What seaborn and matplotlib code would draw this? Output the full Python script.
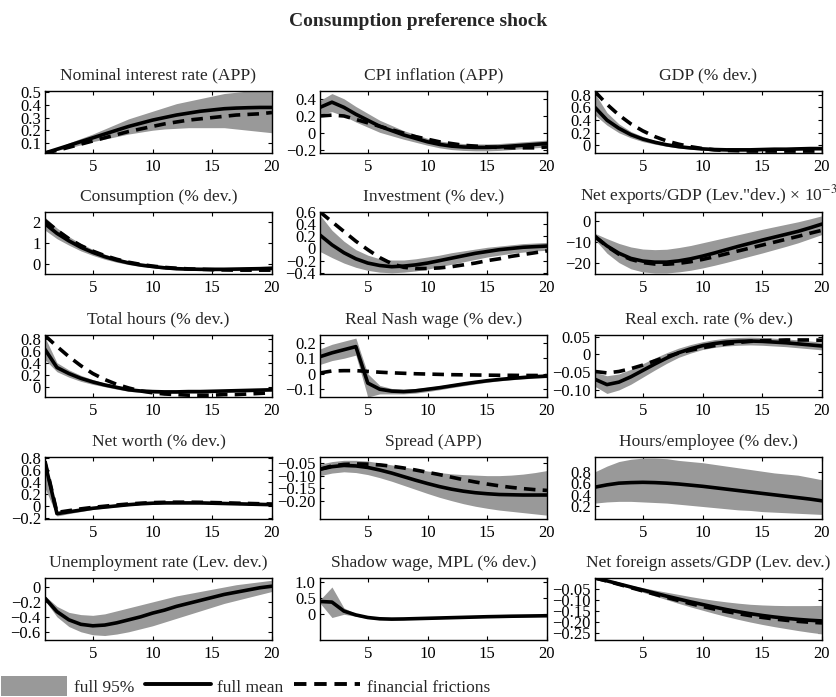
import matplotlib
matplotlib.use("Agg")
import matplotlib.pyplot as plt
import seaborn as sns
import pandas as pd
from matplotlib.patches import Patch
from matplotlib.lines import Line2D

# ---------------- data ----------------
periods = list(range(1, 21))

titles = [
    "Nominal interest rate (APP)", "CPI inflation (APP)", "GDP (% dev.)",
    "Consumption (% dev.)", "Investment (% dev.)", "Net exports/GDP (Lev.\"dev.) \u00d7 10$^{-3}$",
    "Total hours (% dev.)", "Real Nash wage (% dev.)", "Real exch. rate (% dev.)",
    "Net worth (% dev.)", "Spread (APP)", "Hours/employee (% dev.)",
    "Unemployment rate (Lev. dev.)", "Shadow wage, MPL (% dev.)", "Net foreign assets/GDP (Lev. dev.)",
]

nom_mean = [0.02,0.05,0.08,0.11,0.14,0.17,0.20,0.23,0.255,0.28,0.30,0.32,0.335,0.35,0.36,0.37,0.375,0.378,0.38,0.38]
nom_hi = [0.02,0.06,0.10,0.135,0.17,0.21,0.25,0.29,0.32,0.35,0.38,0.41,0.43,0.45,0.47,0.49,0.50,0.51,0.52,0.52]
nom_lo = [0.02,0.04,0.06,0.085,0.11,0.13,0.15,0.17,0.185,0.20,0.21,0.215,0.22,0.22,0.22,0.22,0.21,0.20,0.19,0.18]
nom_ff = [0.02,0.04,0.065,0.09,0.115,0.14,0.165,0.19,0.21,0.23,0.25,0.265,0.28,0.29,0.30,0.31,0.32,0.325,0.33,0.34]

cpi_mean = [0.30,0.36,0.30,0.22,0.15,0.08,0.03,-0.02,-0.06,-0.10,-0.13,-0.15,-0.16,-0.165,-0.165,-0.16,-0.15,-0.14,-0.13,-0.12]
cpi_hi = [0.38,0.46,0.40,0.31,0.23,0.15,0.09,0.03,-0.015,-0.06,-0.09,-0.11,-0.12,-0.125,-0.125,-0.12,-0.11,-0.10,-0.09,-0.08]
cpi_lo = [0.22,0.25,0.20,0.13,0.07,0.01,-0.03,-0.07,-0.105,-0.14,-0.17,-0.19,-0.20,-0.205,-0.205,-0.20,-0.19,-0.18,-0.17,-0.16]
cpi_ff = [0.20,0.21,0.20,0.16,0.12,0.08,0.04,0.0,-0.04,-0.07,-0.10,-0.12,-0.14,-0.15,-0.16,-0.165,-0.17,-0.17,-0.17,-0.16]

gdp_mean = [0.60,0.40,0.27,0.17,0.10,0.05,0.01,-0.02,-0.04,-0.055,-0.065,-0.07,-0.07,-0.07,-0.065,-0.06,-0.06,-0.055,-0.05,-0.05]
gdp_hi = [0.82,0.52,0.34,0.22,0.14,0.08,0.035,0.0,-0.02,-0.035,-0.045,-0.05,-0.05,-0.05,-0.045,-0.04,-0.035,-0.03,-0.025,-0.02]
gdp_lo = [0.48,0.32,0.20,0.12,0.06,0.02,-0.015,-0.04,-0.06,-0.075,-0.085,-0.09,-0.09,-0.09,-0.085,-0.08,-0.08,-0.075,-0.075,-0.075]
gdp_ff = [0.85,0.65,0.48,0.34,0.23,0.14,0.07,0.02,-0.02,-0.05,-0.07,-0.08,-0.085,-0.09,-0.09,-0.09,-0.09,-0.09,-0.09,-0.09]

cons_mean = [1.90,1.45,1.10,0.80,0.56,0.36,0.20,0.07,-0.03,-0.10,-0.16,-0.20,-0.22,-0.23,-0.23,-0.23,-0.22,-0.21,-0.20,-0.18]
cons_hi = [2.20,1.70,1.30,0.97,0.70,0.48,0.30,0.15,0.04,-0.04,-0.10,-0.14,-0.16,-0.17,-0.17,-0.16,-0.15,-0.13,-0.11,-0.09]
cons_lo = [1.60,1.20,0.90,0.63,0.42,0.24,0.10,-0.01,-0.10,-0.16,-0.22,-0.26,-0.28,-0.29,-0.30,-0.30,-0.29,-0.29,-0.28,-0.27]
cons_ff = [2.05,1.60,1.20,0.88,0.62,0.41,0.24,0.10,0.0,-0.08,-0.14,-0.18,-0.21,-0.23,-0.25,-0.26,-0.27,-0.27,-0.27,-0.27]

inv_mean = [0.22,0.06,-0.07,-0.17,-0.24,-0.28,-0.30,-0.29,-0.27,-0.24,-0.20,-0.16,-0.12,-0.08,-0.05,-0.02,0.0,0.02,0.03,0.04]
inv_hi = [0.55,0.30,0.12,-0.02,-0.11,-0.17,-0.19,-0.19,-0.17,-0.14,-0.11,-0.07,-0.04,-0.01,0.02,0.04,0.06,0.08,0.09,0.10]
inv_lo = [-0.05,-0.15,-0.24,-0.31,-0.36,-0.39,-0.40,-0.39,-0.37,-0.34,-0.30,-0.26,-0.22,-0.18,-0.14,-0.11,-0.08,-0.06,-0.04,-0.03]
inv_ff = [0.60,0.44,0.28,0.12,-0.02,-0.15,-0.25,-0.31,-0.33,-0.33,-0.32,-0.30,-0.27,-0.24,-0.20,-0.17,-0.13,-0.10,-0.07,-0.04]

nx_mean = [-7.5,-12.0,-15.5,-18.0,-19.3,-19.8,-19.8,-19.2,-18.2,-16.9,-15.4,-13.8,-12.2,-10.7,-9.2,-7.8,-6.4,-5.0,-3.3,-1.5]
nx_hi = [-6.0,-8.5,-10.8,-12.5,-13.5,-13.8,-13.6,-12.8,-11.8,-10.5,-9.2,-7.9,-6.6,-5.3,-4.0,-2.8,-1.6,-0.4,1.0,2.5]
nx_lo = [-9.0,-15.5,-20.0,-23.0,-24.5,-25.0,-25.0,-24.5,-23.7,-22.6,-21.3,-19.9,-18.4,-16.9,-15.4,-13.8,-12.2,-10.5,-8.5,-6.5]
nx_ff = [-7.5,-12.2,-16.0,-18.5,-20.0,-20.7,-20.8,-20.4,-19.6,-18.5,-17.2,-15.8,-14.4,-13.0,-11.6,-10.2,-8.8,-7.4,-5.9,-4.5]

hrs_mean = [0.62,0.32,0.22,0.14,0.08,0.03,-0.01,-0.05,-0.07,-0.08,-0.085,-0.085,-0.08,-0.08,-0.075,-0.07,-0.065,-0.06,-0.055,-0.05]
hrs_hi = [0.82,0.40,0.28,0.19,0.12,0.06,0.02,-0.02,-0.045,-0.055,-0.06,-0.06,-0.055,-0.055,-0.05,-0.045,-0.04,-0.035,-0.03,-0.025]
hrs_lo = [0.45,0.25,0.16,0.09,0.04,0.0,-0.04,-0.075,-0.095,-0.105,-0.11,-0.11,-0.105,-0.105,-0.10,-0.095,-0.09,-0.085,-0.08,-0.075]
hrs_ff = [0.85,0.67,0.50,0.35,0.22,0.12,0.04,-0.02,-0.07,-0.10,-0.12,-0.13,-0.14,-0.14,-0.14,-0.13,-0.13,-0.12,-0.11,-0.10]

wage_mean = [0.11,0.135,0.155,0.175,-0.06,-0.10,-0.112,-0.115,-0.11,-0.10,-0.09,-0.078,-0.066,-0.055,-0.045,-0.037,-0.03,-0.024,-0.019,-0.015]
wage_hi = [0.16,0.19,0.21,0.23,0.0,-0.075,-0.095,-0.10,-0.095,-0.087,-0.078,-0.066,-0.055,-0.045,-0.036,-0.028,-0.021,-0.015,-0.01,-0.005]
wage_lo = [0.06,0.085,0.10,0.12,-0.15,-0.13,-0.13,-0.13,-0.125,-0.115,-0.103,-0.09,-0.078,-0.066,-0.055,-0.046,-0.039,-0.033,-0.028,-0.025]
wage_ff = [0.005,0.018,0.02,0.02,0.015,0.01,0.006,0.003,0.0,-0.002,-0.004,-0.006,-0.007,-0.008,-0.009,-0.01,-0.01,-0.011,-0.011,-0.012]

rer_mean = [-0.07,-0.085,-0.078,-0.063,-0.045,-0.027,-0.01,0.005,0.016,0.025,0.031,0.035,0.037,0.038,0.037,0.035,0.033,0.03,0.027,0.024]
rer_hi = [-0.05,-0.06,-0.055,-0.042,-0.026,-0.01,0.005,0.018,0.028,0.036,0.042,0.046,0.048,0.049,0.048,0.046,0.044,0.041,0.038,0.035]
rer_lo = [-0.09,-0.11,-0.10,-0.084,-0.064,-0.044,-0.025,-0.008,0.004,0.014,0.02,0.024,0.026,0.027,0.026,0.024,0.022,0.019,0.016,0.013]
rer_ff = [-0.048,-0.052,-0.048,-0.04,-0.03,-0.018,-0.006,0.004,0.012,0.019,0.025,0.03,0.034,0.037,0.039,0.04,0.041,0.041,0.041,0.04]

nw_mean = [0.72,-0.13,-0.10,-0.07,-0.04,-0.02,0.0,0.02,0.035,0.045,0.05,0.05,0.05,0.05,0.045,0.04,0.035,0.03,0.025,0.02]
nw_hi = [0.80,-0.10,-0.075,-0.05,-0.022,-0.003,0.016,0.034,0.048,0.057,0.062,0.062,0.062,0.061,0.056,0.051,0.046,0.041,0.036,0.031]
nw_lo = [0.30,-0.17,-0.13,-0.095,-0.06,-0.037,-0.016,0.005,0.022,0.033,0.038,0.038,0.038,0.039,0.034,0.029,0.024,0.019,0.014,0.009]
nw_ff = [0.75,-0.11,-0.08,-0.05,-0.025,-0.005,0.015,0.032,0.045,0.055,0.06,0.062,0.062,0.06,0.056,0.051,0.046,0.041,0.036,0.031]

spr_mean = [-0.075,-0.065,-0.06,-0.062,-0.068,-0.078,-0.09,-0.104,-0.118,-0.131,-0.143,-0.153,-0.161,-0.167,-0.171,-0.174,-0.175,-0.176,-0.176,-0.176]
spr_hi = [-0.055,-0.045,-0.04,-0.04,-0.043,-0.05,-0.058,-0.066,-0.074,-0.082,-0.088,-0.093,-0.096,-0.098,-0.10,-0.10,-0.098,-0.094,-0.088,-0.08]
spr_lo = [-0.10,-0.09,-0.085,-0.088,-0.096,-0.108,-0.122,-0.138,-0.154,-0.17,-0.185,-0.198,-0.21,-0.22,-0.228,-0.235,-0.24,-0.245,-0.25,-0.255]
spr_ff = [-0.075,-0.062,-0.056,-0.054,-0.055,-0.058,-0.063,-0.07,-0.078,-0.087,-0.096,-0.106,-0.116,-0.125,-0.133,-0.14,-0.146,-0.151,-0.155,-0.158]

hpe_mean = [0.53,0.57,0.60,0.61,0.615,0.61,0.60,0.585,0.565,0.545,0.52,0.495,0.47,0.445,0.42,0.395,0.37,0.345,0.32,0.29]
hpe_hi = [0.80,0.90,0.98,1.02,1.04,1.04,1.03,1.00,0.98,0.96,0.93,0.90,0.87,0.84,0.81,0.78,0.76,0.74,0.70,0.66]
hpe_lo = [0.25,0.27,0.28,0.28,0.27,0.26,0.25,0.23,0.21,0.19,0.17,0.15,0.13,0.12,0.10,0.09,0.08,0.07,0.06,0.05]

une_mean = [-0.15,-0.33,-0.44,-0.50,-0.52,-0.51,-0.48,-0.44,-0.40,-0.35,-0.31,-0.26,-0.22,-0.18,-0.14,-0.10,-0.07,-0.04,-0.01,0.01]
une_hi = [-0.12,-0.26,-0.34,-0.37,-0.38,-0.36,-0.32,-0.28,-0.24,-0.20,-0.16,-0.12,-0.09,-0.06,-0.03,0.0,0.03,0.05,0.07,0.09]
une_lo = [-0.18,-0.40,-0.53,-0.60,-0.64,-0.65,-0.63,-0.60,-0.56,-0.52,-0.47,-0.42,-0.37,-0.32,-0.27,-0.22,-0.18,-0.14,-0.10,-0.06]

shw_mean = [0.40,0.38,0.10,-0.02,-0.10,-0.14,-0.15,-0.145,-0.135,-0.125,-0.115,-0.105,-0.095,-0.085,-0.075,-0.068,-0.06,-0.055,-0.05,-0.045]
shw_hi = [0.45,0.85,0.20,0.02,-0.07,-0.12,-0.13,-0.125,-0.115,-0.105,-0.095,-0.085,-0.075,-0.065,-0.058,-0.05,-0.045,-0.04,-0.035,-0.03]
shw_lo = [0.35,-0.10,0.0,-0.06,-0.13,-0.16,-0.17,-0.165,-0.155,-0.145,-0.135,-0.125,-0.115,-0.105,-0.095,-0.088,-0.08,-0.075,-0.07,-0.065]

nfa_mean = [0.0,-0.013,-0.027,-0.041,-0.055,-0.069,-0.083,-0.096,-0.109,-0.121,-0.133,-0.144,-0.154,-0.163,-0.171,-0.178,-0.184,-0.189,-0.193,-0.196]
nfa_hi = [0.0,-0.011,-0.022,-0.033,-0.044,-0.055,-0.065,-0.075,-0.085,-0.094,-0.102,-0.109,-0.115,-0.12,-0.123,-0.125,-0.126,-0.126,-0.126,-0.125]
nfa_lo = [0.0,-0.015,-0.031,-0.048,-0.065,-0.082,-0.099,-0.116,-0.132,-0.147,-0.162,-0.176,-0.189,-0.201,-0.212,-0.222,-0.231,-0.24,-0.248,-0.255]
nfa_ff = [0.0,-0.014,-0.029,-0.044,-0.059,-0.074,-0.089,-0.103,-0.117,-0.13,-0.142,-0.153,-0.163,-0.172,-0.18,-0.187,-0.193,-0.198,-0.202,-0.205]

series = [
    (nom_mean, nom_lo, nom_hi, nom_ff),
    (cpi_mean, cpi_lo, cpi_hi, cpi_ff),
    (gdp_mean, gdp_lo, gdp_hi, gdp_ff),
    (cons_mean, cons_lo, cons_hi, cons_ff),
    (inv_mean, inv_lo, inv_hi, inv_ff),
    (nx_mean, nx_lo, nx_hi, nx_ff),
    (hrs_mean, hrs_lo, hrs_hi, hrs_ff),
    (wage_mean, wage_lo, wage_hi, wage_ff),
    (rer_mean, rer_lo, rer_hi, rer_ff),
    (nw_mean, nw_lo, nw_hi, nw_ff),
    (spr_mean, spr_lo, spr_hi, spr_ff),
    (hpe_mean, hpe_lo, hpe_hi, None),
    (une_mean, une_lo, une_hi, None),
    (shw_mean, shw_lo, shw_hi, None),
    (nfa_mean, nfa_lo, nfa_hi, nfa_ff),
]

ytick_vals = [
    [0.1, 0.2, 0.3, 0.4, 0.5],
    [-0.2, 0, 0.2, 0.4],
    [0, 0.2, 0.4, 0.6, 0.8],
    [0, 1, 2],
    [-0.4, -0.2, 0, 0.2, 0.4, 0.6],
    [-20, -10, 0],
    [0, 0.2, 0.4, 0.6, 0.8],
    [-0.1, 0, 0.1, 0.2],
    [-0.10, -0.05, 0, 0.05],
    [-0.2, 0, 0.2, 0.4, 0.6, 0.8],
    [-0.20, -0.15, -0.10, -0.05],
    [0.2, 0.4, 0.6, 0.8],
    [-0.6, -0.4, -0.2, 0],
    [0, 0.5, 1.0],
    [-0.25, -0.20, -0.15, -0.10, -0.05],
]
ytick_text = [
    ["0.1", "0.2", "0.3", "0.4", "0.5"],
    ["\u22120.2", "0", "0.2", "0.4"],
    ["0", "0.2", "0.4", "0.6", "0.8"],
    ["0", "1", "2"],
    ["\u22120.4", "\u22120.2", "0", "0.2", "0.4", "0.6"],
    ["\u221220", "\u221210", "0"],
    ["0", "0.2", "0.4", "0.6", "0.8"],
    ["\u22120.1", "0", "0.1", "0.2"],
    ["\u22120.10", "\u22120.05", "0", "0.05"],
    ["\u22120.2", "0", "0.2", "0.4", "0.6", "0.8"],
    ["\u22120.20", "\u22120.15", "\u22120.10", "\u22120.05"],
    ["0.2", "0.4", "0.6", "0.8"],
    ["\u22120.6", "\u22120.4", "\u22120.2", "0"],
    ["0", "0.5", "1.0"],
    ["\u22120.25", "\u22120.20", "\u22120.15", "\u22120.10", "\u22120.05"],
]
xtick_vals = [5, 10, 15, 20]

# ---------------- layout / style ----------------
ylims = [(0.02, 0.51), (-0.23, 0.49), (-0.12, 0.86), (-0.45, 2.45), (-0.42, 0.6),
         (-25.5, 4.3), (-0.17, 0.86), (-0.15, 0.25), (-0.12, 0.055), (-0.22, 0.82),
         (-0.27, -0.027), (-0.03, 1.06), (-0.71, 0.12), (-0.8, 1.13), (-0.283, 0.0)]

sns.set_style("ticks")
plt.rcParams['font.family'] = ['Liberation Serif', 'DejaVu Serif']
plt.rcParams['mathtext.fontset'] = 'stix'

W, H = 837, 697
fig = plt.figure(figsize=(W / 100, H / 100), dpi=100)

col_left = [45, 320, 595]
row_top = [91, 212, 335, 457, 578]
aw, ah = 227, 62
band_color = "#999999"

for i, (mean, lo, hi, ff) in enumerate(series):
    r, c = divmod(i, 3)
    ax = fig.add_axes([col_left[c] / W, 1 - (row_top[r] + ah) / H, aw / W, ah / H])
    ax.fill_between(periods, lo, hi, color=band_color, linewidth=0, zorder=1)
    sns.lineplot(x=periods, y=mean, ax=ax, color="black", linewidth=2.6, zorder=3)
    if ff is not None:
        sns.lineplot(x=periods, y=ff, ax=ax, color="black", linewidth=2.6,
                     linestyle=(0, (3.2, 2.0)), zorder=4)
    ax.set_xlim(1, 20)
    ax.set_ylim(*ylims[i])
    ax.set_xticks(xtick_vals)
    ax.set_xticklabels([str(v) for v in xtick_vals])
    ax.set_yticks(ytick_vals[i])
    ax.set_yticklabels(ytick_text[i])
    ax.tick_params(direction="in", top=True, right=True, length=3, width=0.8,
                   labelsize=12, pad=3, colors="black")
    ax.tick_params(axis="x", pad=4)
    for s in ax.spines.values():
        s.set_visible(True)
        s.set_linewidth(1.0)
        s.set_color("black")
    ax.set_title(titles[i], fontsize=12.6, pad=8)
    ax.set_xlabel("")
    ax.set_ylabel("")

fig.text(0.5, 1 - 21 / H, "Consumption preference shock", ha="center", va="center",
         fontsize=14, fontweight="bold")

handles = [Patch(facecolor=band_color, edgecolor="none"),
           Line2D([], [], color="black", linewidth=2.8),
           Line2D([], [], color="black", linewidth=2.8, linestyle=(0, (3.2, 2.0)))]
labels = ["full 95%", "full mean", "financial frictions"]
fig.legend(handles, labels, loc="lower left", bbox_to_anchor=(0, 0), ncol=3,
           frameon=False, fontsize=12.5, handlelength=3.8, handleheight=1.4,
           handletextpad=0.4, columnspacing=0.6, borderaxespad=0.0, borderpad=0.05)

fig.savefig("out.png", dpi=100)
